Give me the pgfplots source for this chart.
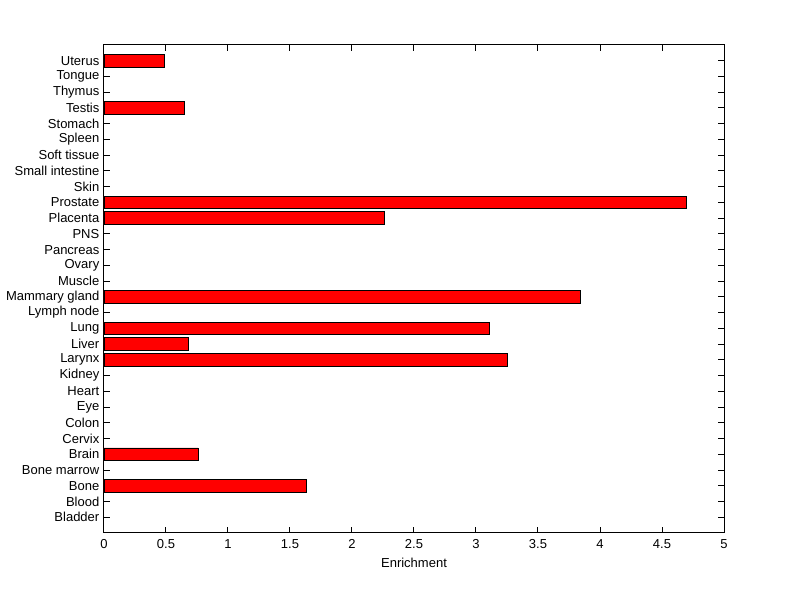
\documentclass[border=0pt]{standalone}
\usepackage{pgfplots}
\pgfplotsset{compat=1.18}
\usepackage{fontspec}
\setmainfont{Liberation Sans}
\begin{document}
\begin{tikzpicture}
\path[use as bounding box] (-78pt,-49.5pt) rectangle (522pt,399.75pt);
\begin{axis}[
  xbar, bar width=0.8,
  at={(0,0)}, anchor=south west,
  scale only axis, width=465pt, height=366pt,
  xmin=0, xmax=5, ymin=0, ymax=31,
  xtick={0,0.5,...,5},
  ytick={1,...,30},
  yticklabels={Bladder,Blood,Bone,Bone marrow,Brain,Cervix,Colon,Eye,Heart,Kidney,Larynx,Liver,Lung,Lymph node,Mammary gland,Muscle,Ovary,Pancreas,PNS,Placenta,Prostate,Skin,Small intestine,Soft tissue,Spleen,Stomach,Testis,Thymus,Tongue,Uterus},
  tick align=inside,
  tick pos=both,
  major tick length=4.5pt,
  every tick/.style={black, line width=0.75pt},
  axis line style={line width=0.75pt},
  /pgf/number format/assume math mode=true,
  tick label style={font=\fontsize{9.75}{11}\selectfont},
  xticklabel style={yshift=-1.5pt},
  label style={font=\fontsize{9.75}{11}\selectfont},
  xlabel={Enrichment},
]
\addplot[fill=red, draw=black, line width=0.6pt] coordinates {
(0.49,30) (0.65,27) (4.70,21) (2.26,20) (3.84,15) (3.11,13) (0.68,12) (3.25,11) (0.76,5) (1.63,3)
};
\end{axis}
\end{tikzpicture}
\end{document}
